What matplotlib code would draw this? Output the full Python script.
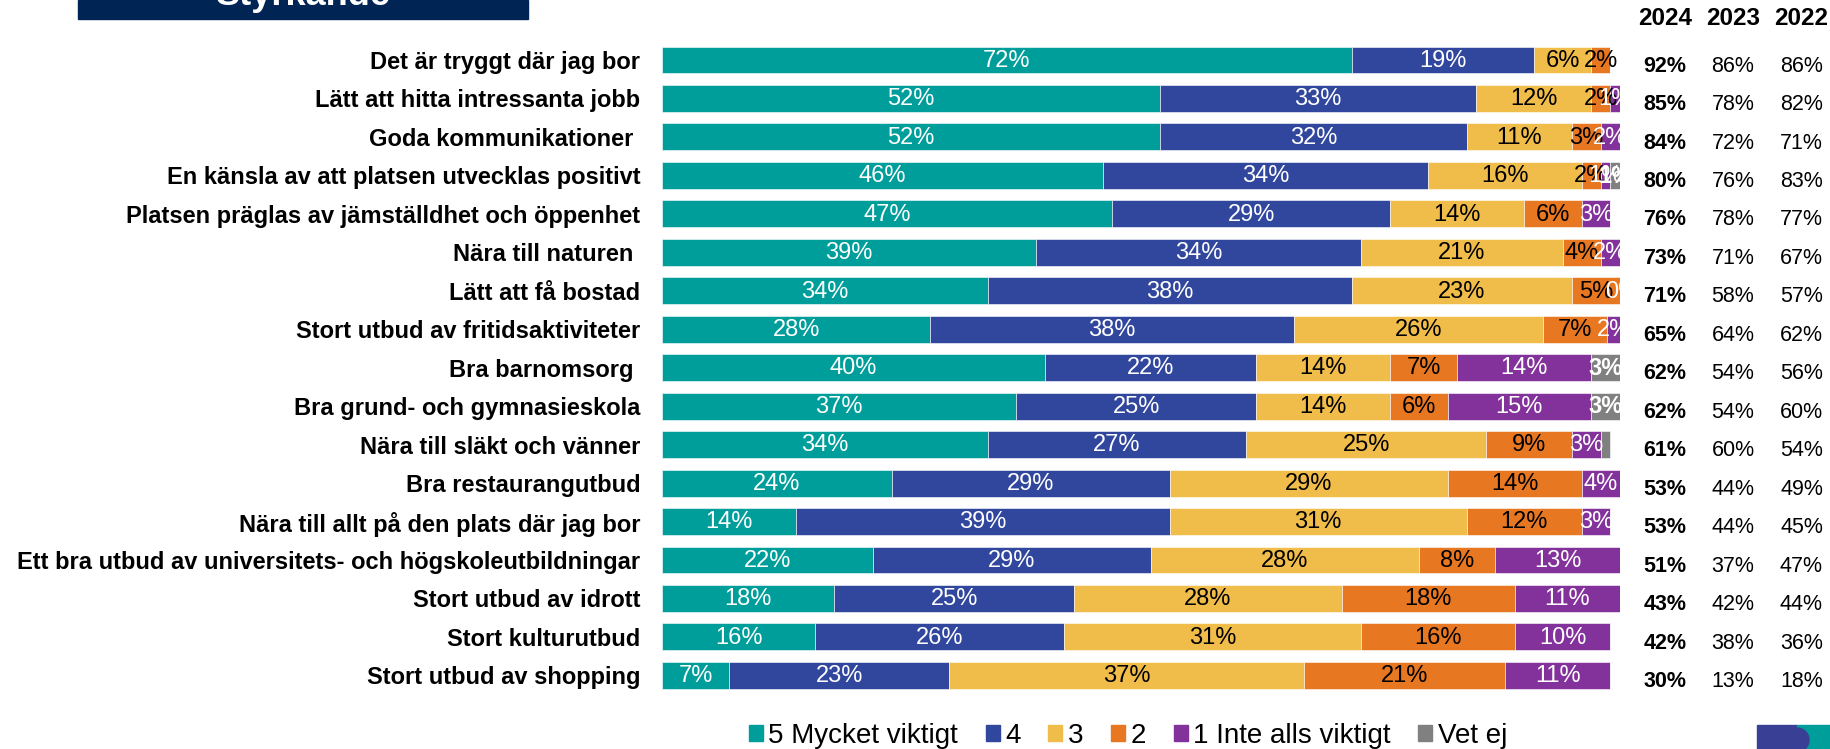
import matplotlib
matplotlib.use('Agg')
import matplotlib.pyplot as plt
from matplotlib.patches import Rectangle, Ellipse, Patch
import numpy as np

plt.rcParams['font.family'] = ['Liberation Sans', 'DejaVu Sans']

# påståenden, uppifrån och ner
labels = [
    'Det är tryggt där jag bor',
    'Lätt att hitta intressanta jobb',
    'Goda kommunikationer ',
    'En känsla av att platsen utvecklas positivt',
    'Platsen präglas av jämställdhet och öppenhet',
    'Nära till naturen ',
    'Lätt att få bostad',
    'Stort utbud av fritidsaktiviteter',
    'Bra barnomsorg ',
    'Bra grund- och gymnasieskola',
    'Nära till släkt och vänner',
    'Bra restaurangutbud',
    'Nära till allt på den plats där jag bor',
    'Ett bra utbud av universitets- och högskoleutbildningar',
    'Stort utbud av idrott',
    'Stort kulturutbud',
    'Stort utbud av shopping',
]

# andelar (%) per svarsalternativ
v5 = [72, 52, 52, 46, 47, 39, 34, 28, 40, 37, 34, 24, 14, 22, 18, 16, 7]
v4 = [19, 33, 32, 34, 29, 34, 38, 38, 22, 25, 27, 29, 39, 29, 25, 26, 23]
v3 = [6, 12, 11, 16, 14, 21, 23, 26, 14, 14, 25, 29, 31, 28, 28, 31, 37]
v2 = [2, 2, 3, 2, 6, 4, 5, 6.6, 7, 6, 9, 14, 12, 8, 18, 16, 21]
v1 = [0, 1, 2, 1, 3, 2, 0.4, 1.5, 14, 15, 3, 4, 3, 13, 11, 10, 11]
vet_ej = [0, 0, 0, 1, 0, 0, 0, 0, 3, 3, 1, 0, 0, 0, 0, 0, 0]

series_names = ['5 Mycket viktigt', '4', '3', '2', '1 Inte alls viktigt', 'Vet ej']
colors = ['#009E9A', '#31479D', '#F0BC4A', '#E87722', '#84329B', '#808080']
text_colors = ['white', 'white', 'black', 'black', 'white', 'white']
hidden_labels = {(10, 5)}  # etikett som saknas i originalet

# andel viktigt (4+5) per år
years = ['2024', '2023', '2022']
y2024 = [92, 85, 84, 80, 76, 73, 71, 65, 62, 62, 61, 53, 53, 51, 43, 42, 30]
y2023 = [86, 78, 72, 76, 78, 71, 58, 64, 54, 54, 60, 44, 44, 37, 42, 38, 13]
y2022 = [86, 82, 71, 83, 77, 67, 57, 62, 56, 60, 54, 49, 45, 47, 44, 36, 18]

title = 'Styrkande'

W, H = 1831, 749
fig = plt.figure(figsize=(W / 100, H / 100), dpi=100)

row_h = 38.46
top = 60 - row_h / 2
ax = fig.add_axes([662 / W, 1 - (top + 17 * row_h) / H, 958 / W, 17 * row_h / H])
ax.set_xlim(0, 100)
ax.set_ylim(16.5, -0.5)

ypos = np.arange(len(labels))
left = np.zeros(len(labels))
all_series = [v5, v4, v3, v2, v1, vet_ej]
for k, vals in enumerate(all_series):
    vals = np.array(vals, dtype=float)
    ax.barh(ypos, vals, left=left, height=0.7, color=colors[k],
            edgecolor='white', linewidth=0.4)
    for i, v in enumerate(vals):
        if v <= 0 or (i, k) in hidden_labels:
            continue
        ax.text(left[i] + v / 2, i + 0.02, f'{v:.0f}%', ha='center', va='center',
                fontsize=17, color=text_colors[k],
                fontweight='bold' if k == 5 else 'normal', clip_on=False)
    left += vals

ax.set_yticks(ypos)
ax.set_yticklabels(labels, fontsize=17, fontweight='bold')
ax.tick_params(axis='y', length=0, pad=15.5)
ax.set_xticks([])
for s in ax.spines.values():
    s.set_visible(False)

# kolumner till höger
col_x = [(1665 - 662) / 958 * 100, (1733 - 662) / 958 * 100, (1801.5 - 662) / 958 * 100]
for j, (yr, vals) in enumerate(zip(years, [y2024, y2023, y2022])):
    ax.text(col_x[j], -1.07, yr, ha='center', va='center', fontsize=17.5,
            fontweight='bold', clip_on=False)
    for i, v in enumerate(vals):
        ax.text(col_x[j], i + 0.16, f'{v}%', ha='center', va='center',
                fontsize=15.5, fontweight='bold' if j == 0 else 'normal', clip_on=False)

# rubrikruta (avskuren upptill)
fig.patches.append(Rectangle((78 / W, 1 - 19 / H), 450 / W, 19 / H,
                             transform=fig.transFigure, color='#002554', zorder=0))
fig.text(303 / W, 1 - 5 / H, title, color='white', fontsize=26, fontweight='bold',
         ha='center', va='baseline')

# förklaring
handles = [Patch(color=c) for c in colors]
fig.legend(handles, series_names, loc='center', bbox_to_anchor=(1128 / W, 1 - 736 / H),
           ncol=6, frameon=False, fontsize=20, handlelength=0.5, handleheight=0.5,
           handletextpad=0.2, columnspacing=1.0, borderpad=0, borderaxespad=0)

# logga nere till höger
fig.patches.append(Rectangle((1757 / W, 0), 40 / W, 24 / H, transform=fig.transFigure,
                             color='#3A3F96'))
fig.patches.append(Rectangle((1797 / W, 0), 34 / W, 24 / H, transform=fig.transFigure,
                             color='#009E9A'))
fig.patches.append(Ellipse((1797 / W, 9 / H), 24 / W, 24 / H, transform=fig.transFigure,
                           color='#3A3F96'))

fig.savefig('out.png', dpi=100)
